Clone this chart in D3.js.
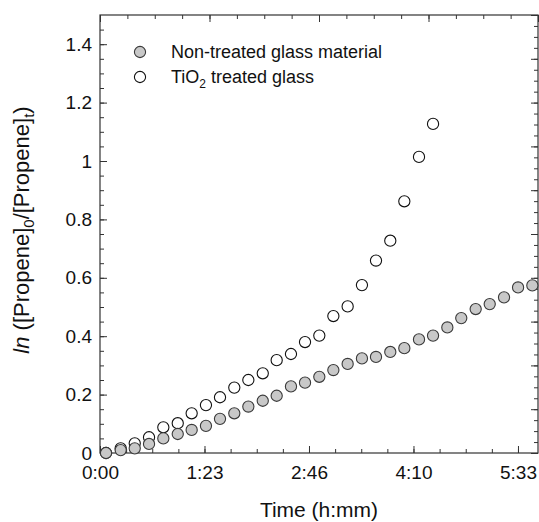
<!DOCTYPE html>
<html>
<head>
<meta charset="utf-8">
<script src="https://cdn.jsdelivr.net/npm/d3@7"></script>
<style>
  body { margin: 0; background: #fff; }
  text { font-family: "Liberation Sans", Arial, sans-serif; fill: #111; }
</style>
</head>
<body>
<div id="chart"></div>
<script>
// sample times in minutes
const sampleTime = [4.8, 16.5, 27.7, 39.1, 50.5, 62.0, 73.1, 84.5, 95.7, 107.1, 118.3, 129.8,
  140.9, 152.3, 163.5, 174.9, 186.1, 197.5, 208.9, 220.1, 231.5, 242.7, 254.4, 265.6,
  277.0, 288.1, 299.6, 310.8, 322.2, 333.4, 344.8];

// ln([Propene]0/[Propene]t), non-treated glass
const nonTreated = [0.000, 0.010, 0.016, 0.031, 0.050, 0.065, 0.079, 0.093, 0.117, 0.136, 0.159, 0.179,
  0.196, 0.228, 0.241, 0.261, 0.284, 0.305, 0.324, 0.329, 0.346, 0.359, 0.389, 0.402,
  0.430, 0.462, 0.493, 0.510, 0.533, 0.567, 0.574];

// TiO2 treated glass (first 24 samples)
const tio2Time = sampleTime.slice(0, 24);
const tio2Treated = [0.000, 0.016, 0.033, 0.054, 0.088, 0.102, 0.136, 0.164, 0.191, 0.224, 0.250, 0.273,
  0.318, 0.339, 0.380, 0.402, 0.469, 0.502, 0.575, 0.659, 0.727, 0.862, 1.014, 1.127];

// ticks (x ticks every 5000 s)
const xTicks = [0, 83.333, 166.667, 250, 333.333];
const xTickLabels = ['0:00', '1:23', '2:46', '4:10', '5:33'];
const yTicks = [0, 0.2, 0.4, 0.6, 0.8, 1.0, 1.2, 1.4];
const yTickLabels = ['0', '0.2', '0.4', '0.6', '0.8', '1', '1.2', '1.4'];

let width = 539, height = 522;
let plot = { left: 100, right: 538, top: 15, bottom: 453 };

let svg = d3.select('#chart').append('svg')
  .attr('width', width)
  .attr('height', height);

let x = d3.scaleLinear().domain([0, 349.3]).range([plot.left, plot.right]);
let y = d3.scaleLinear().domain([0, 1.5]).range([plot.bottom, plot.top]);
// top and right frames carry their own tick spacing in the original
let xTop = d3.scaleLinear().domain([0, 4]).range([plot.left, plot.right]);
let yRight = d3.scaleLinear().domain([0, 10]).range([plot.bottom, plot.top]);

const axisColor = '#333';

function styleAxis(g) {
  g.select('.domain').remove();
  g.selectAll('line').attr('stroke', axisColor);
  g.selectAll('text').style('font-size', '19px').attr('fill', '#111');
}

//bottom axis, ticks pointing inward
svg.append('g')
  .attr('transform', `translate(0,${plot.bottom})`)
  .call(d3.axisBottom(x).tickValues(d3.range(0, 349.3, 83.333 / 4)).tickSize(-4).tickFormat(''))
  .call(styleAxis);
svg.append('g')
  .attr('transform', `translate(0,${plot.bottom})`)
  .call(d3.axisBottom(x).tickValues(xTicks).tickSize(-7).tickPadding(13)
    .tickFormat((d, i) => xTickLabels[i]))
  .call(styleAxis);

//left axis
svg.append('g')
  .attr('transform', `translate(${plot.left},0)`)
  .call(d3.axisLeft(y).tickValues(d3.range(0, 1.5, 0.05)).tickSize(-4).tickFormat(''))
  .call(styleAxis);
svg.append('g')
  .attr('transform', `translate(${plot.left},0)`)
  .call(d3.axisLeft(y).tickValues(yTicks).tickSize(-7).tickPadding(8)
    .tickFormat((d, i) => yTickLabels[i]))
  .call(styleAxis);

//top axis
svg.append('g')
  .attr('transform', `translate(0,${plot.top})`)
  .call(d3.axisTop(xTop).tickValues(d3.range(0, 4.01, 0.25)).tickSize(-4).tickFormat(''))
  .call(styleAxis);
svg.append('g')
  .attr('transform', `translate(0,${plot.top})`)
  .call(d3.axisTop(xTop).tickValues([0, 1, 2, 3, 4]).tickSize(-7).tickFormat(''))
  .call(styleAxis);

//right axis
svg.append('g')
  .attr('transform', `translate(${plot.right},0)`)
  .call(d3.axisRight(yRight).tickValues(d3.range(0, 10.01, 0.25)).tickSize(-4).tickFormat(''))
  .call(styleAxis);
svg.append('g')
  .attr('transform', `translate(${plot.right},0)`)
  .call(d3.axisRight(yRight).tickValues(d3.range(0, 11, 1)).tickSize(-7).tickFormat(''))
  .call(styleAxis);

//frame
svg.append('rect')
  .attr('x', plot.left)
  .attr('y', plot.top)
  .attr('width', plot.right - plot.left)
  .attr('height', plot.bottom - plot.top)
  .attr('fill', 'none')
  .attr('stroke', axisColor)
  .attr('stroke-width', 1.2);

//points, TiO2 first so the grey ones sit on top
let r = 5.6;
svg.append('g').selectAll('circle')
  .data(tio2Treated)
  .join('circle')
  .attr('cx', (d, i) => x(tio2Time[i]))
  .attr('cy', d => y(d))
  .attr('r', r)
  .attr('fill', '#fff')
  .attr('stroke', '#111')
  .attr('stroke-width', 1.1);

svg.append('g').selectAll('circle')
  .data(nonTreated)
  .join('circle')
  .attr('cx', (d, i) => x(sampleTime[i]))
  .attr('cy', d => y(d))
  .attr('r', r)
  .attr('fill', '#c8c8c8')
  .attr('stroke', '#3a3a3a')
  .attr('stroke-width', 1.1);

//legend
let legend = svg.append('g').attr('transform', 'translate(140,0)');
legend.append('circle').attr('cx', 0).attr('cy', 52).attr('r', r)
  .attr('fill', '#c8c8c8').attr('stroke', '#3a3a3a').attr('stroke-width', 1.1);
legend.append('circle').attr('cx', 0).attr('cy', 77).attr('r', r)
  .attr('fill', '#fff').attr('stroke', '#111').attr('stroke-width', 1.1);
legend.append('text').attr('x', 31).attr('y', 58).style('font-size', '18px')
  .text('Non-treated glass material');
let t2 = legend.append('text').attr('x', 31).attr('y', 83).style('font-size', '18px');
t2.append('tspan').text('TiO');
t2.append('tspan').attr('dy', 5).style('font-size', '12px').text('2');
t2.append('tspan').attr('dy', -5).text(' treated glass');

//axis titles
svg.append('text')
  .attr('x', (plot.left + plot.right) / 2)
  .attr('y', 517)
  .attr('text-anchor', 'middle')
  .style('font-size', '21px')
  .text('Time (h:mm)');

let yTitle = svg.append('text')
  .attr('transform', `translate(29,${(plot.top + plot.bottom) / 2 - 4}) rotate(-90)`)
  .attr('text-anchor', 'middle')
  .style('font-size', '22px');
yTitle.append('tspan').style('font-style', 'italic').text('ln');
yTitle.append('tspan').text(' ([Propene]');
yTitle.append('tspan').attr('dy', 5).style('font-size', '15px').text('0');
yTitle.append('tspan').attr('dy', -5).text('/[Propene]');
yTitle.append('tspan').attr('dy', 5).style('font-size', '15px').text('t');
yTitle.append('tspan').attr('dy', -5).text(')');
</script>
</body>
</html>
